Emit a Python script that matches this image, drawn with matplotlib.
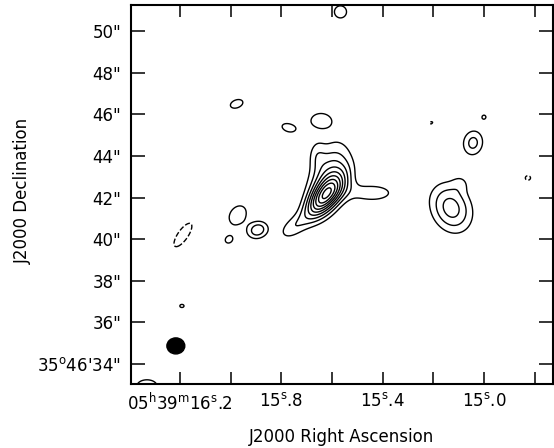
import numpy as np
import matplotlib.pyplot as plt
from matplotlib.patches import Ellipse

# Gaussian components of the map (RA seconds, Dec arcsec offset from 35d46')
comp_ra = [15.630, 15.611, 15.662, 15.440, 15.760,
           15.130, 15.091, 15.0437, 15.894, 15.973, 16.008,
           15.977, 15.646, 15.776, 15.000, 15.567, 16.193, 16.331,
           16.189, 14.827, 15.209]
comp_dec = [42.03, 42.94, 44.1, 42.22, 40.54,
            41.50, 42.70, 44.625, 40.44, 41.16, 39.96,
            46.50, 45.73, 45.35, 45.875, 50.92, 36.79, 32.94,
            40.20, 42.94, 45.59]
comp_amp = [13.0, 8.5, 2.6, 4.0, 3.8,
            8.0, 2.0, 5.7, 6.5, 4.9, 3.3,
            3.4, 3.6, 3.3, 3.08, 3.4, 3.1, 3.6,
            -3.6, -3.2, -3.1]
comp_smaj = [0.9, 1.2, 0.5, 1.0, 0.6,
             0.9, 0.3, 0.5, 0.4, 0.48, 0.35,
             0.62, 0.68, 0.55, 0.25, 0.58, 0.4, 0.8,
             1.1, 0.35, 0.3]
comp_smin = [0.4, 0.65, 0.3, 0.4, 0.35,
             0.7, 0.3, 0.4, 0.32, 0.36, 0.3,
             0.38, 0.48, 0.33, 0.25, 0.58, 0.3, 0.5,
             0.4, 0.3, 0.2]
comp_pa = [50, 72, 90, 0, 40,
           -65, 0, 80, 20, 53, 30,
           20, 0, -20, 0, 0, 0, 0,
           55, 0, 30]

levels = [-3, 3, 5, 7, 9, 11, 13, 15, 17, 19]

beam_ra, beam_dec = 16.217, 34.87
beam_w, beam_h = 0.86, 0.77  # arcsec

xticks = [16.2, 15.8, 15.4, 15.0]
xminor = [16.0, 15.6, 15.2, 14.8]
xlabels = [r'05$^{\rm h}$39$^{\rm m}$16$^{\rm s}$.2', r'15$^{\rm s}$.8',
           r'15$^{\rm s}$.4', r'15$^{\rm s}$.0']
yticks = [34, 36, 38, 40, 42, 44, 46, 48, 50]
ylabels = ["35$^{\\rm o}$46'34\""] + ['%d"' % v for v in yticks[1:]]

ra_scale = 15 * np.cos(np.radians(35.78))  # arcsec per second of RA

ra = np.linspace(14.70, 16.42, 500)
dec = np.linspace(32.8, 51.5, 500)
R, D = np.meshgrid(ra, dec)
U = -R * ra_scale  # increases to the right
img = np.zeros_like(R)
for r0, d0, a, sa, sb, pa in zip(comp_ra, comp_dec, comp_amp, comp_smaj, comp_smin, comp_pa):
    t = np.radians(pa)
    du = U + r0 * ra_scale
    dv = D - d0
    p = du * np.cos(t) + dv * np.sin(t)
    q = -du * np.sin(t) + dv * np.cos(t)
    img += a * np.exp(-0.5 * ((p / sa) ** 2 + (q / sb) ** 2))

plt.rcParams['font.family'] = 'DejaVu Sans'
plt.rcParams['mathtext.fontset'] = 'dejavusans'

fig = plt.figure(figsize=(5.54, 4.48), dpi=100)
ax = fig.add_axes([131 / 554, 64 / 448, 422 / 554, 379 / 448])

ax.contour(R, D, img, levels=levels, colors='black', linewidths=1.0)

ax.add_patch(Ellipse((beam_ra, beam_dec), beam_w / ra_scale, beam_h, color='black'))

ax.set_xlim(16.394, 14.728)
ax.set_ylim(33.04, 51.25)

ax.set_xticks(xticks)
ax.set_xticklabels(xlabels)
ax.set_xticks(xminor, minor=True)
ax.set_yticks(yticks)
ax.set_yticklabels(ylabels)

ax.tick_params(axis='x', which='both', direction='in', top=True, length=8.5, width=1.1,
               labelsize=12, pad=6)
ax.tick_params(axis='y', direction='in', right=True, length=10, width=1.1,
               labelsize=12, pad=7)
for s in ax.spines.values():
    s.set_linewidth(1.5)

ax.set_xlabel('J2000 Right Ascension', fontsize=12, labelpad=10.5)
ax.set_ylabel('J2000 Declination', fontsize=12, labelpad=0)
ax.yaxis.set_label_coords(-0.234, 0.51)

fig.savefig('out.png', dpi=100)
